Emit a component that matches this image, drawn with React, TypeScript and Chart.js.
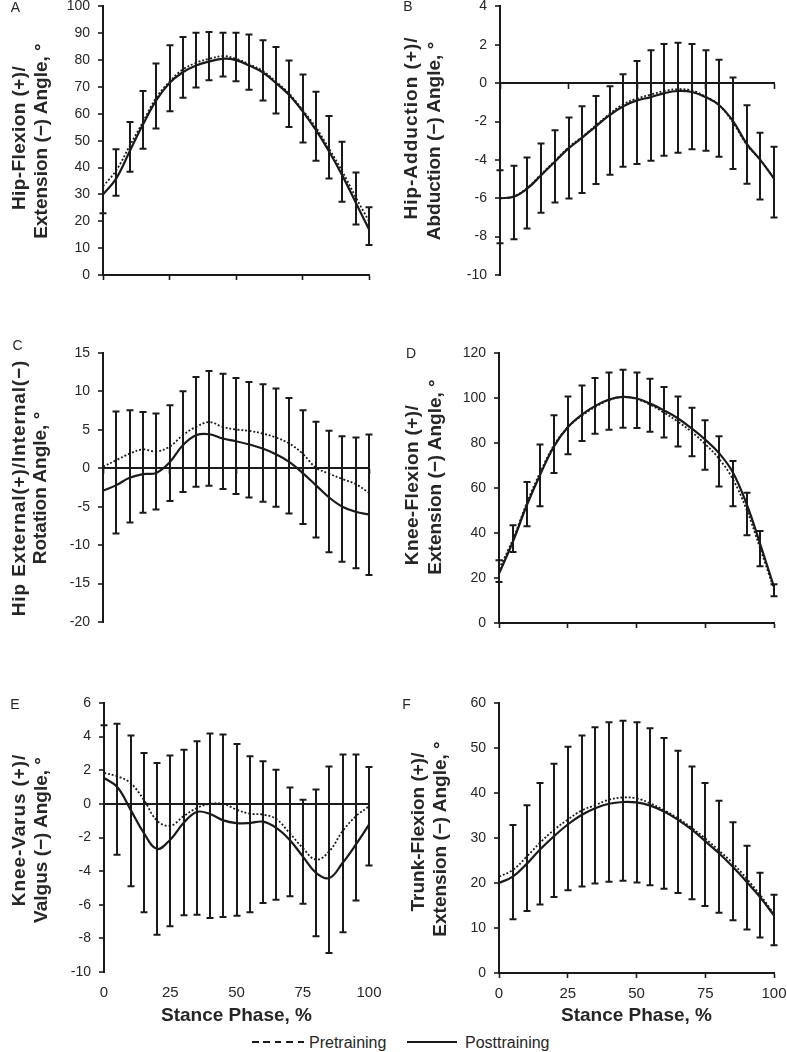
import React, { useEffect, useRef } from "react";
import { Chart, registerables } from "chart.js";

Chart.register(...registerables);

// ---------- data ----------
const stancePhase = [0, 5, 10, 15, 20, 25, 30, 35, 40, 45, 50, 55, 60, 65, 70, 75, 80, 85, 90, 95, 100];
const seriesNames = ["Pretraining", "Posttraining"];
const xAxisTitle = "Stance Phase, %";

// A: hip flexion/extension
const aPre = [33, 39, 48, 57, 66, 72, 76.5, 79, 80.5, 81.5, 80.5, 78.5, 76, 72, 67.5, 61.5, 55, 47, 38.5, 29, 20];
const aPost = [30, 36, 46, 56, 65, 71.5, 75.5, 78, 79.5, 80.5, 80, 78, 75.5, 71.5, 67, 61, 54, 46, 37, 27, 17];
const aPreUpper = [null, 46.8, 57, 68.5, 78.7, 85.5, 88.6, 90.2, 90.5, 90.2, 90.2, 89.5, 87.4, 84.9, 79.9, 74.6, 68.2, 59.2, 49.6, 38.2, 25.2];
const aPostLower = [23, 29.5, 38.4, 47, 54.5, 61, 66, 69.8, 72.5, 73.9, 72.1, 69, 65, 60.1, 55.1, 49.3, 42.5, 35.9, 27.3, 18.8, 11.2];

// B: hip adduction/abduction
const bPre = [-6.0, -5.9, -5.45, -4.75, -4.05, -3.35, -2.8, -2.2, -1.6, -1.1, -0.8, -0.6, -0.4, -0.32, -0.38, -0.7, -1.15, -2.05, -3.2, -4.0, -4.95];
const bPost = [-6.0, -5.92, -5.49, -4.8, -4.1, -3.4, -2.84, -2.25, -1.67, -1.2, -0.9, -0.73, -0.52, -0.41, -0.46, -0.73, -1.15, -1.97, -3.15, -4.0, -4.97];
const bPreUpper = [-4.54, -4.31, -3.88, -3.15, -2.45, -1.79, -1.2, -0.67, -0.16, 0.46, 1.15, 1.71, 2.04, 2.11, 2.04, 1.71, 1.22, 0.29, -1.15, -2.59, -3.32];
const bPostLower = [-8.35, -8.14, -7.57, -6.76, -6.22, -6.01, -5.72, -5.26, -4.78, -4.36, -4.22, -4.05, -3.79, -3.63, -3.44, -3.53, -3.84, -4.48, -5.25, -6.06, -7.0];

// C: hip external/internal rotation
const cPre = [0.2, 1.05, 1.9, 2.45, 2.2, 2.8, 4.3, 5.39, 6.0, 5.39, 5.04, 4.87, 4.52, 4.0, 3.22, 1.92, 0.1, -0.7, -1.4, -2.06, -3.19];
const cPost = [-2.93, -2.19, -1.24, -0.76, -0.6, 0.75, 3.0, 4.3, 4.43, 3.87, 3.52, 3.09, 2.57, 1.83, 0.84, -0.59, -2.19, -3.8, -5.0, -5.66, -6.0];
const cPreUpper = [null, 7.38, 7.55, 7.33, 7.12, 8.2, 10.02, 11.88, 12.66, 12.31, 11.75, 11.23, 10.93, 10.37, 9.15, 7.55, 6.04, 4.87, 4.17, 4.0, 4.39];
const cPostLower = [null, -8.47, -7.04, -5.79, -5.35, -4.27, -3.1, -2.41, -2.28, -2.71, -3.36, -3.8, -4.36, -5.0, -5.87, -7.26, -8.99, -10.94, -12.15, -13.02, -13.89];

// D: knee flexion/extension
const dPre = [24, 37, 53, 67, 79, 87, 92, 96, 99, 100.5, 99.5, 97, 93.5, 89.5, 85, 79.5, 73, 64, 50.5, 33, 15];
const dPost = [22, 36, 52, 66, 78.5, 87, 92.5, 96.5, 99.3, 100.5, 99.8, 97.5, 94.5, 91, 86.5, 81.5, 75.5, 67, 53, 35, 16];
const dPreUpper = [27.9, 43.4, 62.7, 79.3, 92.3, 100.7, 105.6, 108.9, 111.3, 112.6, 111.3, 108.6, 104.9, 100.7, 95.7, 90.1, 83.0, 72.0, 57.9, 40.9, 17.2];
const dPostLower = [18.2, 31.6, 43, 51.9, 66.7, 75, 80.9, 84.1, 85.9, 86.8, 86.7, 85.0, 82.4, 78.5, 74.1, 68.1, 60.7, 51.9, 39.0, 25.2, 11.9];

// E: knee varus/valgus
const ePre = [1.84, 1.64, 1.24, 0.25, -1.0, -1.3, -0.74, -0.25, 0.0, 0.0, -0.34, -0.58, -0.64, -0.9, -1.73, -2.62, -3.32, -2.82, -1.63, -0.74, -0.15];
const ePost = [1.54, 1.0, -0.34, -1.73, -2.68, -2.13, -1.14, -0.48, -0.6, -0.98, -1.14, -1.14, -1.06, -1.43, -2.13, -3.12, -4.1, -4.41, -3.52, -2.43, -1.24];
const ePreUpper = [4.67, 4.77, 4.06, 3.03, 2.43, 2.87, 3.22, 3.72, 4.18, 4.12, 3.56, 2.83, 2.53, 2.03, 0.98, 0.25, 0.85, 2.23, 2.93, 2.93, 2.19];
const ePostLower = [null, -3.02, -4.9, -6.45, -7.78, -7.28, -6.63, -6.59, -6.79, -6.73, -6.65, -6.45, -5.9, -5.7, -5.5, -5.94, -7.88, -8.87, -7.64, -5.74, -3.67];

// F: trunk flexion/extension
const fPre = [21.4, 22.9, 25.8, 29.0, 31.8, 34.1, 36.1, 37.3, 38.5, 39.0, 38.8, 37.7, 36.2, 34.4, 32.3, 29.9, 27.2, 24.4, 21.0, 17.3, 13.1];
const fPost = [20.0, 21.4, 24.2, 27.5, 30.4, 33.0, 35.1, 36.6, 37.6, 38.0, 37.9, 37.2, 35.9, 34.1, 31.9, 29.3, 26.6, 23.6, 20.3, 16.8, 12.8];
const fPreUpper = [null, 32.9, 37.3, 42.2, 46.5, 50.3, 52.8, 54.6, 55.7, 56.05, 55.75, 54.4, 52.2, 49.4, 45.9, 42.2, 38.3, 33.5, 28.3, 22.3, 17.4];
const fPostLower = [null, 11.95, 13.8, 15.2, 16.9, 18.4, 19.2, 19.9, 20.3, 20.5, 20.1, 19.5, 18.7, 17.8, 16.4, 14.9, 13.4, 11.7, 9.65, 7.87, 6.16];

// ---------- styling / layout ----------
const INK = "#1a1a1a";
const TXT = "#262626";
const FONT = "'Liberation Sans', Arial, sans-serif";
const Y_AXIS_W = 40;
const X_AXIS_H = 30;

type TitleLine = { text: string; x: number; y: number; ls: number };

type PanelCfg = {
  letter: string;
  letterPos: [number, number];
  cell: { x: number; y: number; w: number; h: number };
  area: { l: number; r: number; t: number; b: number };
  yMin: number; yMax: number; yStep: number;
  pre: number[]; post: number[];
  hi: (number | null)[]; lo: (number | null)[];
  xMode: "bottom" | "zero" | "bottomNoLine";
  xLabels: boolean;
  title: TitleLine[];
};

const LEFT = { x: -10, w: 403 };
const RIGHT = { x: 390, w: 410 };
const ROW1 = { y: -10, h: 320 };
const ROW2 = { y: 330, h: 320 };
const ROW3 = { y: 680, h: 330 };

const panels: PanelCfg[] = [
  {
    letter: "A", letterPos: [15.5, 7],
    cell: { x: LEFT.x, y: ROW1.y, w: LEFT.w, h: ROW1.h },
    area: { l: 103, r: 369, t: 6, b: 275 },
    yMin: 0, yMax: 100, yStep: 10,
    pre: aPre, post: aPost, hi: aPreUpper, lo: aPostLower,
    xMode: "bottom", xLabels: false,
    title: [
      { text: "Hip-Flexion (+)/", x: 17.5, y: 138, ls: 0.4 },
      { text: "Extension (\u2212) Angle, \u00b0", x: 39.5, y: 141, ls: 0 },
    ],
  },
  {
    letter: "B", letterPos: [408, 6],
    cell: { x: RIGHT.x, y: ROW1.y, w: RIGHT.w, h: ROW1.h },
    area: { l: 500, r: 774, t: 6, b: 275 },
    yMin: -10, yMax: 4, yStep: 2,
    pre: bPre, post: bPost, hi: bPreUpper, lo: bPostLower,
    xMode: "zero", xLabels: false,
    title: [
      { text: "Hip-Adduction (+)/", x: 410, y: 128, ls: 1.0 },
      { text: "Abduction (\u2212) Angle, \u00b0", x: 433, y: 141, ls: 0 },
    ],
  },
  {
    letter: "C", letterPos: [17.5, 345],
    cell: { x: LEFT.x, y: ROW2.y, w: LEFT.w, h: ROW2.h },
    area: { l: 103, r: 369, t: 353, b: 622 },
    yMin: -20, yMax: 15, yStep: 5,
    pre: cPre, post: cPost, hi: cPreUpper, lo: cPostLower,
    xMode: "zero", xLabels: false,
    title: [
      { text: "Hip External(+)/Internal(\u2212)", x: 18, y: 487.5, ls: 0.9 },
      { text: "Rotation Angle, \u00b0", x: 39, y: 488, ls: 0 },
    ],
  },
  {
    letter: "D", letterPos: [411, 353],
    cell: { x: RIGHT.x, y: ROW2.y, w: RIGHT.w, h: ROW2.h },
    area: { l: 499, r: 774, t: 353, b: 623 },
    yMin: 0, yMax: 120, yStep: 20,
    pre: dPre, post: dPost, hi: dPreUpper, lo: dPostLower,
    xMode: "bottom", xLabels: false,
    title: [
      { text: "Knee-Flexion (+)/", x: 411, y: 485, ls: 0.4 },
      { text: "Extension (\u2212) Angle, \u00b0", x: 434, y: 477, ls: 0 },
    ],
  },
  {
    letter: "E", letterPos: [15, 703.5],
    cell: { x: LEFT.x, y: ROW3.y, w: LEFT.w, h: ROW3.h },
    area: { l: 104, r: 369, t: 703, b: 972 },
    yMin: -10, yMax: 6, yStep: 2,
    pre: ePre, post: ePost, hi: ePreUpper, lo: ePostLower,
    xMode: "bottomNoLine", xLabels: true,
    title: [
      { text: "Knee-Varus (+)/", x: 17.5, y: 830, ls: 0.9 },
      { text: "Valgus (\u2212) Angle, \u00b0", x: 40, y: 840, ls: 0 },
    ],
  },
  {
    letter: "F", letterPos: [406.5, 703.5],
    cell: { x: RIGHT.x, y: ROW3.y, w: RIGHT.w, h: ROW3.h },
    area: { l: 499, r: 774, t: 703, b: 973 },
    yMin: 0, yMax: 60, yStep: 10,
    pre: fPre, post: fPost, hi: fPreUpper, lo: fPostLower,
    xMode: "bottom", xLabels: true,
    title: [
      { text: "Trunk-Flexion (+)/", x: 417, y: 831.5, ls: 0 },
      { text: "Extension (\u2212) Angle, \u00b0", x: 439, y: 838.5, ls: 0 },
    ],
  },
];

function makeErrorBars(p: PanelCfg) {
  return {
    id: "errorBars" + p.letter,
    afterDatasetsDraw(chart: any) {
      const xs = chart.scales.x;
      const ys = chart.scales.y;
      const ctx = chart.ctx;
      const cap = 3.5;
      ctx.save();
      ctx.strokeStyle = INK;
      ctx.lineWidth = 2;
      stancePhase.forEach((xv, i) => {
        const h = p.hi[i];
        const l = p.lo[i];
        if (h == null && l == null) return;
        const top = h != null ? h : Math.max(p.pre[i], p.post[i]);
        const bot = l != null ? l : Math.min(p.pre[i], p.post[i]);
        const px = Math.round(xs.getPixelForValue(xv));
        const pt = ys.getPixelForValue(top);
        const pb = ys.getPixelForValue(bot);
        ctx.beginPath();
        ctx.moveTo(px, pt);
        ctx.lineTo(px, pb);
        if (h != null) {
          ctx.moveTo(px - cap, pt);
          ctx.lineTo(px + cap, pt);
        }
        if (l != null) {
          ctx.moveTo(px - cap, pb);
          ctx.lineTo(px + cap, pb);
        }
        ctx.stroke();
      });
      ctx.restore();
    },
  };
}

function buildConfig(p: PanelCfg): any {
  const cellBottom = p.cell.y + p.cell.h;
  const bottomAxis = p.xMode !== "zero";
  const padding = {
    left: p.area.l - p.cell.x - Y_AXIS_W,
    right: p.cell.x + p.cell.w - p.area.r,
    top: p.area.t - p.cell.y,
    bottom: cellBottom - p.area.b - (bottomAxis ? X_AXIS_H : 0),
  };
  const zeroGrid = p.xMode === "bottomNoLine";
  return {
    type: "line",
    data: {
      datasets: [
        {
          label: seriesNames[0],
          data: stancePhase.map((x, i) => ({ x, y: p.pre[i] })),
          borderColor: INK,
          borderWidth: 1.8,
          borderDash: [2, 2],
          pointRadius: 0,
          fill: false,
          tension: 0.4,
        },
        {
          label: seriesNames[1],
          data: stancePhase.map((x, i) => ({ x, y: p.post[i] })),
          borderColor: INK,
          borderWidth: 2.2,
          pointRadius: 0,
          fill: false,
          tension: 0.4,
        },
      ],
    },
    options: {
      responsive: false,
      animation: false,
      events: [],
      layout: { padding },
      plugins: { legend: { display: false }, tooltip: { enabled: false } },
      scales: {
        x: {
          type: "linear",
          min: 0,
          max: 100,
          position: p.xMode === "zero" ? { y: 0 } : "bottom",
          ticks: {
            stepSize: 25,
            display: p.xLabels,
            autoSkip: false,
            maxRotation: 0,
            padding: 7,
            color: TXT,
            font: { family: FONT, size: 15 },
          },
          grid: {
            drawOnChartArea: false,
            drawTicks: true,
            tickLength: 5,
            tickColor: p.xMode === "bottomNoLine" ? "rgba(0,0,0,0)" : INK,
            tickWidth: 1.6,
          },
          border: { display: p.xMode !== "bottomNoLine", color: INK, width: 2 },
          afterFit: bottomAxis ? (s: any) => { s.height = X_AXIS_H; } : undefined,
        },
        y: {
          type: "linear",
          min: p.yMin,
          max: p.yMax,
          ticks: {
            stepSize: p.yStep,
            padding: 8,
            color: TXT,
            font: { family: FONT, size: 14 },
          },
          grid: {
            drawOnChartArea: zeroGrid,
            drawTicks: true,
            tickLength: 5,
            color: (ctx: any) => (ctx.tick && ctx.tick.value === 0 && zeroGrid ? INK : "rgba(0,0,0,0)"),
            lineWidth: 2,
            tickColor: INK,
            tickWidth: 1.6,
          },
          border: { display: true, color: INK, width: 2 },
          afterFit: (s: any) => { s.width = Y_AXIS_W; },
        },
      },
    },
    plugins: [makeErrorBars(p)],
  };
}

function Panel({ p }: { p: PanelCfg }) {
  const ref = useRef<HTMLCanvasElement | null>(null);
  useEffect(() => {
    if (!ref.current) return;
    const chart = new Chart(ref.current, buildConfig(p));
    return () => chart.destroy();
  }, [p]);
  return (
    <canvas
      ref={ref}
      width={p.cell.w}
      height={p.cell.h}
      style={{ position: "absolute", left: p.cell.x, top: p.cell.y, width: p.cell.w, height: p.cell.h }}
    />
  );
}

const placed = (x: number, y: number, extra: React.CSSProperties = {}): React.CSSProperties => ({
  position: "absolute",
  left: x,
  top: y,
  whiteSpace: "nowrap",
  lineHeight: 1,
  fontFamily: FONT,
  color: TXT,
  ...extra,
});

export default function App() {
  return (
    <div
      style={{
        position: "absolute",
        left: 0,
        top: 0,
        width: 787,
        height: 1052,
        overflow: "hidden",
        background: "#fff",
      }}
    >
      {panels.map((p) => (
        <Panel key={p.letter} p={p} />
      ))}
      {panels.map((p) => (
        <React.Fragment key={"t" + p.letter}>
          <div style={placed(p.letterPos[0], p.letterPos[1], { transform: "translate(-50%,-50%)", fontSize: 14 })}>
            {p.letter}
          </div>
          {p.title.map((line, i) => (
            <div
              key={i}
              style={placed(line.x, line.y, {
                transform: "translate(-50%,-50%) rotate(-90deg)",
                fontSize: 19,
                fontWeight: "bold",
                letterSpacing: line.ls,
              })}
            >
              {line.text}
            </div>
          ))}
          {p.xLabels ? (
            <div
              style={placed((p.area.l + p.area.r) / 2, 1013.5, {
                transform: "translate(-50%,-50%)",
                fontSize: 19,
                fontWeight: "bold",
              })}
            >
              {xAxisTitle}
            </div>
          ) : null}
        </React.Fragment>
      ))}
      {/* legend */}
      <div
        style={{
          position: "absolute",
          left: 252,
          top: 1040.5,
          width: 53,
          height: 2,
          background: `repeating-linear-gradient(to right, ${INK} 0px, ${INK} 6.5px, transparent 6.5px, transparent 11.5px)`,
        }}
      />
      <div style={placed(309, 1035, { fontSize: 16, lineHeight: "16px" })}>{seriesNames[0]}</div>
      <div style={{ position: "absolute", left: 407, top: 1040.5, width: 50, height: 2, background: INK }} />
      <div style={placed(465, 1035, { fontSize: 16, lineHeight: "16px" })}>{seriesNames[1]}</div>
    </div>
  );
}
